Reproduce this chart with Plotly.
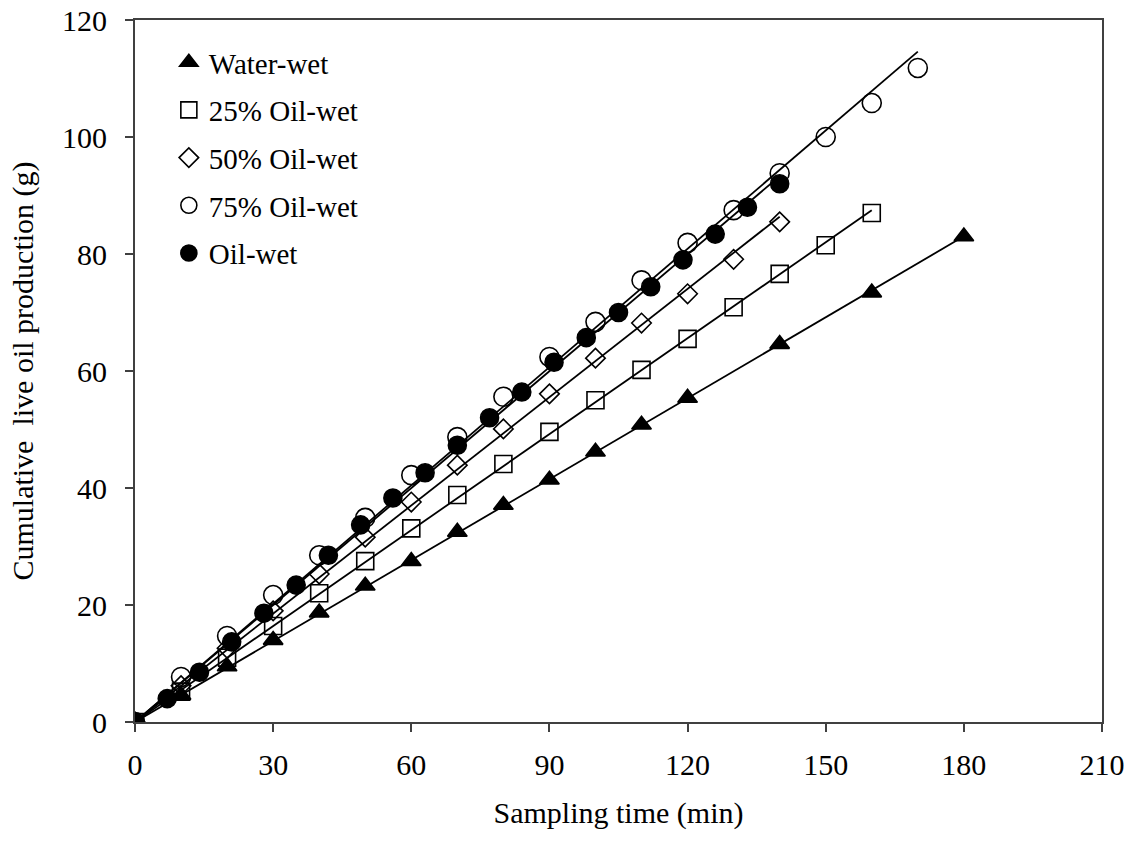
import numpy as np
import plotly.graph_objects as go

# Sampling times (min) and cumulative live oil production (g) per wettability case
t_water_wet = [0, 10, 20, 30, 40, 50, 60, 70, 80, 90, 100, 110, 120, 140, 160, 180]
q_water_wet = [0, 4.6, 9.5, 14.0, 18.7, 23.3, 27.5, 32.5, 37.1, 41.4, 46.2, 50.8, 55.4, 64.6, 73.4, 83.0]

t_ow25 = [0, 10, 20, 30, 40, 50, 60, 70, 80, 90, 100, 110, 120, 130, 140, 150, 160]
q_ow25 = [0, 5.2, 11.0, 16.4, 22.0, 27.5, 33.1, 38.8, 44.1, 49.6, 55.0, 60.2, 65.5, 70.9, 76.6, 81.5, 87.0]

t_ow50 = [0, 10, 20, 30, 40, 50, 60, 70, 80, 90, 100, 110, 120, 130, 140]
q_ow50 = [0, 6.2, 12.6, 19.0, 25.3, 31.6, 37.6, 43.9, 50.1, 56.1, 62.2, 68.2, 73.2, 79.1, 85.5]

t_ow75 = [0, 10, 20, 30, 40, 50, 60, 70, 80, 90, 100, 110, 120, 130, 140, 150, 160, 170]
q_ow75 = [0, 7.7, 14.7, 21.7, 28.5, 34.9, 42.2, 48.7, 55.6, 62.4, 68.4, 75.5, 81.9, 87.5, 93.8, 100.0, 105.8, 111.8]

t_oil_wet = [0, 7, 14, 21, 28, 35, 42, 49, 56, 63, 70, 77, 84, 91, 98, 105, 112, 119, 126, 133, 140]
q_oil_wet = [0, 4.0, 8.5, 13.7, 18.6, 23.4, 28.5, 33.7, 38.3, 42.6, 47.3, 52.0, 56.4, 61.5, 65.7, 70.0, 74.4, 79.0, 83.4, 88.0, 92.0]

series_names = ["Water-wet", "25% Oil-wet", "50% Oil-wet", "75% Oil-wet", "Oil-wet"]
series_t = [t_water_wet, t_ow25, t_ow50, t_ow75, t_oil_wet]
series_q = [q_water_wet, q_ow25, q_ow50, q_ow75, q_oil_wet]
symbols = ["triangle-up", "square-open", "diamond-open", "circle-open", "circle"]
sizes = [17, 17, 15, 19, 18]

x_ticks = [0, 30, 60, 90, 120, 150, 180, 210]
y_ticks = [0, 20, 40, 60, 80, 100, 120]

FONT = "Liberation Serif, Times New Roman, serif"
AXIS_COLOR = "#404040"
TEXT_SIZE = 30

fig = go.Figure()

# Linear trend lines through the origin, spanning each series' time range
for t, q in zip(series_t, series_q):
    t_arr = np.asarray(t, dtype=float)
    q_arr = np.asarray(q, dtype=float)
    slope = float(np.sum(t_arr * q_arr) / np.sum(t_arr * t_arr))
    x_line = [0.0, t_arr.max()]
    fig.add_trace(go.Scatter(
        x=x_line, y=[slope * v for v in x_line], mode="lines",
        line=dict(color="black", width=1.8), showlegend=False, hoverinfo="skip",
    ))

# Measured points
for i, (name, t, q, sym, sz) in enumerate(zip(series_names, series_t, series_q, symbols, sizes)):
    fig.add_trace(go.Scatter(
        x=t, y=q, mode="markers", name=name, legendgroup=f"g{i}",
        marker=dict(symbol=sym, size=sz, color="black",
                    line=dict(color="black", width=1.6)),
    ))

fig.update_layout(
    width=1130, height=844,
    margin=dict(l=135, r=28, t=20, b=122),
    paper_bgcolor="white", plot_bgcolor="white",
    font=dict(family=FONT, size=TEXT_SIZE, color="black"),
    showlegend=True,
    legend=dict(
        x=0.035, y=0.976, xanchor="left", yanchor="top",
        bgcolor="rgba(0,0,0,0)", borderwidth=0,
        font=dict(family=FONT, size=29, color="black"),
        tracegroupgap=7, itemwidth=30,
    ),
    xaxis=dict(
        range=[0, 210], tickvals=x_ticks, ticktext=[str(v) for v in x_ticks],
        showgrid=False, zeroline=False, automargin=False,
        showline=True, linecolor=AXIS_COLOR, linewidth=2, mirror=True,
        ticks="outside", ticklen=8, tickwidth=2, tickcolor=AXIS_COLOR,
        ticklabelstandoff=7,
        tickfont=dict(family=FONT, size=TEXT_SIZE, color="black"),
        title=dict(text="Sampling time (min)", font=dict(family=FONT, size=TEXT_SIZE, color="black"), standoff=22),
    ),
    yaxis=dict(
        range=[0, 120], tickvals=y_ticks, ticktext=[str(v) for v in y_ticks],
        showgrid=False, zeroline=False, automargin=False,
        showline=True, linecolor=AXIS_COLOR, linewidth=2, mirror=True,
        ticks="outside", ticklen=8, tickwidth=2, tickcolor=AXIS_COLOR,
        ticklabelstandoff=12,
        tickfont=dict(family=FONT, size=TEXT_SIZE, color="black"),
        title=dict(text="Cumulative\u00a0 live oil production (g)", font=dict(family=FONT, size=TEXT_SIZE, color="black"), standoff=20),
    ),
)

fig.write_html("out.html")
